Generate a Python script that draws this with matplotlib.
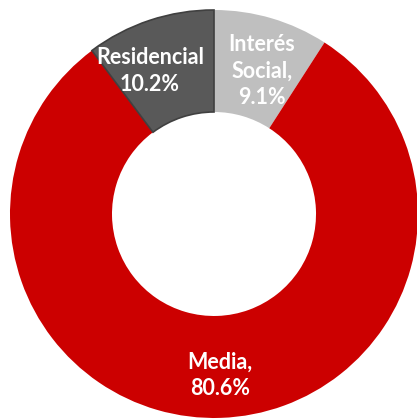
import matplotlib
matplotlib.use("Agg")
from matplotlib import pyplot as plt

labels = ["Interés\nSocial,\n9.1%", "Media,\n80.6%", "Residencial\n10.2%"]
values = [9.1, 80.6, 10.2]
colors = ["#BFBFBF", "#CC0000", "#595959"]

plt.rcParams['font.family'] = ['Lato', 'DejaVu Sans']

fig = plt.figure(figsize=(4.17, 4.19), dpi=100)
ax = fig.add_axes([0, 0, 1, 1])

wedges, _ = ax.pie(values, colors=colors, startangle=90, counterclock=False,
                   radius=1, wedgeprops=dict(width=0.5, linewidth=0))
wedges[2].set_edgecolor("#404040")
wedges[2].set_linewidth(1.2)

# label positions (data coords)
pos = [(0.235, 0.70), (0.03, -0.79), (-0.314, 0.70)]
for (x, y), lab in zip(pos, labels):
    ax.text(x, y, lab, ha="center", va="center", color="white",
            fontsize=15.5, fontweight="bold", linespacing=1.33)

ax.set_xlim(-1.049, 0.995)
ax.set_ylim(-1.005, 1.049)
ax.set_aspect("auto")
ax.axis("off")

fig.savefig("out.png", dpi=100)
